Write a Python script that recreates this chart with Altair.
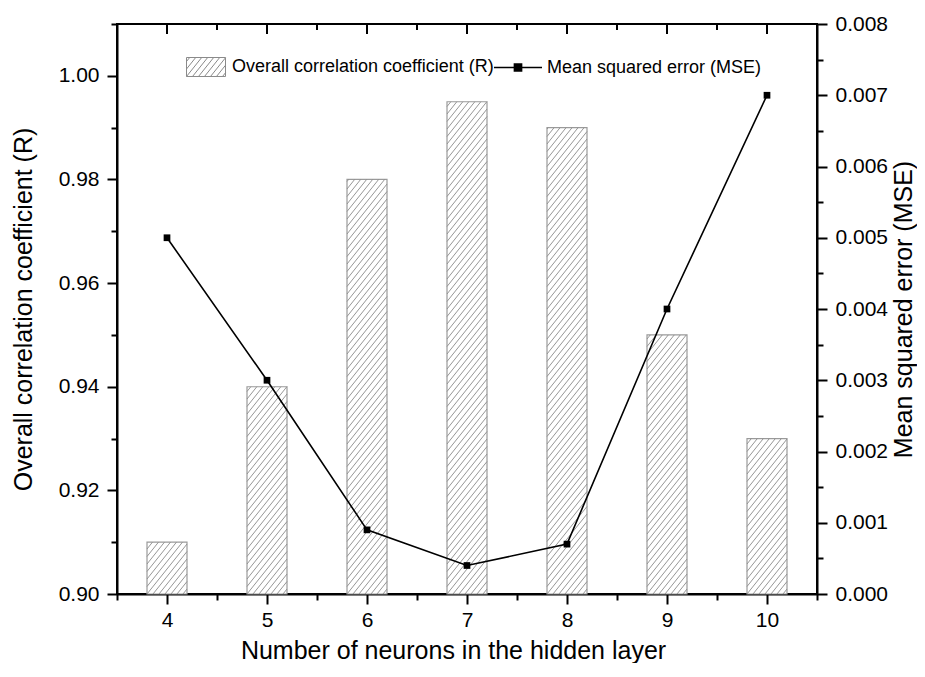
import altair as alt
import numpy as np
import pandas as pd

# ---------------- data ----------------
neurons = [4, 5, 6, 7, 8, 9, 10]
r_values = [0.910, 0.940, 0.980, 0.995, 0.990, 0.950, 0.930]
mse_values = [0.0050, 0.0030, 0.0009, 0.0004, 0.0007, 0.0040, 0.0070]

R_LABEL = "Overall correlation coefficient (R)"
MSE_LABEL = "Mean squared error (MSE)"
X_TITLE = "Number of neurons in the hidden layer"

x_domain = [3.5, 10.5]
r_domain = [0.90, 1.01]
mse_domain = [0.0, 0.008]

x_major = [4, 5, 6, 7, 8, 9, 10]
x_minor = [3.5, 4.5, 5.5, 6.5, 7.5, 8.5, 9.5, 10.5]
r_major = [0.90, 0.92, 0.94, 0.96, 0.98, 1.00]
r_minor = [0.91, 0.93, 0.95, 0.97, 0.99, 1.01]
mse_major = [0.000, 0.001, 0.002, 0.003, 0.004, 0.005, 0.006, 0.007, 0.008]
mse_minor = [0.0005, 0.0015, 0.0025, 0.0035, 0.0045, 0.0055, 0.0065, 0.0075]

# ---------------- layout / style ----------------
W, H = 700, 570
BAR_W = 0.4
FONT = "Liberation Sans"
HATCH_SPACING = 6.0
HATCH_SLOPE = 1.25
HATCH_COLOR = "#8a8a8a"
BAR_EDGE = "#9a9a9a"

px_x = W / (x_domain[1] - x_domain[0])
px_y = H / (r_domain[1] - r_domain[0])


def hatch_segments(w, h, spacing, slope):
    run = h / slope
    segs = []
    n0 = int(np.floor(-run / spacing))
    n1 = int(np.ceil(w / spacing))
    for n in range(n0, n1 + 1):
        c = n * spacing
        xs = max(0.0, c)
        xe = min(w, c + run)
        if xe - xs <= 0.3:
            continue
        segs.append((xs, slope * (xs - c), xe, slope * (xe - c)))
    return segs


df = pd.DataFrame({"n": neurons, "r": r_values, "mse": mse_values})
df["r_series"] = R_LABEL
df["mse_series"] = MSE_LABEL
df["x_lo"] = df["n"] - BAR_W / 2
df["x_hi"] = df["n"] + BAR_W / 2
df["base"] = r_domain[0]

hatch_rows = []
for n, r in zip(neurons, r_values):
    w = BAR_W * px_x
    h = (r - r_domain[0]) * px_y
    for xs, ys, xe, ye in hatch_segments(w, h, HATCH_SPACING, HATCH_SLOPE):
        hatch_rows.append({
            "hx": n - BAR_W / 2 + xs / px_x,
            "hy": r_domain[0] + ys / px_y,
            "hx2": n - BAR_W / 2 + xe / px_x,
            "hy2": r_domain[0] + ye / px_y,
        })
hatch_df = pd.DataFrame(hatch_rows)

# legend symbol: hatched box
LW, LH = 39, 19
half = LW / 2
hh = LH / 2 / half
parts = [f"M-1,{-hh:.3f}L1,{-hh:.3f}L1,{hh:.3f}L-1,{hh:.3f}Z"]
for xs, ys, xe, ye in hatch_segments(LW, LH, HATCH_SPACING, HATCH_SLOPE):
    parts.append(f"M{-1 + xs / half:.3f},{hh - ys / half:.3f}L{-1 + xe / half:.3f},{hh - ye / half:.3f}")
hatch_symbol = "".join(parts)
line_symbol = "M-1,0L1,0M-0.15,-0.15L0.15,-0.15L0.15,0.15L-0.15,0.15Z"

xscale = alt.Scale(domain=x_domain, nice=False, zero=False)
rscale = alt.Scale(domain=r_domain, nice=False, zero=False)
mscale = alt.Scale(domain=mse_domain, nice=False, zero=False)

x_axis = alt.Axis(
    values=sorted(x_major + x_minor),
    labelExpr="datum.value % 1 == 0 ? format(datum.value, 'd') : ''",
    tickSize={"condition": {"test": "datum.value % 1 == 0", "value": 10}, "value": 6},
    title=X_TITLE,
    titleX=336,
    labelPadding=5,
    titlePadding=8,
    labelOverlap=False,
    labelFlush=False,
)
r_axis = alt.Axis(
    values=sorted(r_major + r_minor),
    labelExpr="round(datum.value * 100) % 2 == 0 ? format(datum.value, '.2f') : ''",
    tickSize={"condition": {"test": "round(datum.value * 100) % 2 == 0", "value": 10}, "value": 6},
    title=R_LABEL,
    labelPadding=8,
    titlePadding=22,
    labelOverlap=False,
)
m_axis = alt.Axis(
    orient="right",
    values=sorted(mse_major + mse_minor),
    labelExpr="round(datum.value * 2000) % 2 == 0 ? format(datum.value, '.3f') : ''",
    tickSize={"condition": {"test": "round(datum.value * 2000) % 2 == 0", "value": 10}, "value": 6},
    title=MSE_LABEL,
    titleAngle=270,
    titleBaseline="top",
    labelPadding=8,
    titlePadding=4,
    labelOverlap=False,
)

base = alt.Chart(df)

bars = base.mark_bar(stroke=BAR_EDGE, strokeWidth=1.2).encode(
    x=alt.X("x_lo:Q", scale=xscale, axis=x_axis),
    x2="x_hi:Q",
    y=alt.Y("r:Q", scale=rscale, axis=r_axis),
    y2="base:Q",
    fill=alt.Fill(
        "r_series:N",
        scale=alt.Scale(domain=[R_LABEL], range=["white"]),
        legend=alt.Legend(
            title=None, orient="none", legendX=69, legendY=23,
            symbolType=hatch_symbol, symbolSize=LW * LW,
            symbolStrokeColor=HATCH_COLOR, symbolStrokeWidth=1,
            labelFont=FONT, labelFontSize=18, labelColor="black",
            labelLimit=500, labelOffset=6, padding=0,
        ),
    ),
)

hatch = alt.Chart(hatch_df).mark_rule(color=HATCH_COLOR, strokeWidth=0.9).encode(
    x=alt.X("hx:Q", scale=xscale, axis=x_axis),
    x2="hx2:Q",
    y=alt.Y("hy:Q", scale=rscale, axis=r_axis),
    y2="hy2:Q",
)

top_major = alt.Chart(pd.DataFrame({"t": x_major})).mark_rule(color="black", strokeWidth=2).encode(
    x=alt.X("t:Q", scale=xscale, axis=x_axis), y=alt.value(0), y2=alt.value(10)
)
top_minor = alt.Chart(pd.DataFrame({"t": x_minor})).mark_rule(color="black", strokeWidth=2).encode(
    x=alt.X("t:Q", scale=xscale, axis=x_axis), y=alt.value(0), y2=alt.value(6)
)

line = base.mark_line(strokeWidth=1.6).encode(
    x=alt.X("n:Q", scale=xscale, axis=x_axis),
    y=alt.Y("mse:Q", scale=mscale, axis=m_axis),
    stroke=alt.Stroke(
        "mse_series:N",
        scale=alt.Scale(domain=[MSE_LABEL], range=["black"]),
        legend=alt.Legend(
            title=None, orient="none", legendX=376, legendY=18.5,
            symbolType=line_symbol, symbolSize=48 * 48,
            symbolStrokeWidth=1.5, symbolFillColor="black", symbolStrokeColor="black",
            labelFont=FONT, labelFontSize=18, labelColor="black",
            labelLimit=500, labelOffset=4, padding=0,
        ),
    ),
)
points = base.mark_square(size=45, color="black", opacity=1).encode(
    x=alt.X("n:Q", scale=xscale, axis=x_axis),
    y=alt.Y("mse:Q", scale=mscale, axis=m_axis),
)

left = alt.layer(bars, hatch, top_major, top_minor)
right = alt.layer(line, points)

chart = (
    alt.layer(left, right)
    .resolve_scale(y="independent", fill="independent", stroke="independent")
    .properties(width=W, height=H, padding={"left": 3, "top": 5, "right": 0, "bottom": 0})
    .configure_view(stroke="black", strokeWidth=2)
    .configure_axis(
        domainColor="black", domainWidth=2, tickColor="black", tickWidth=2,
        labelFont=FONT, labelFontSize=21, labelColor="black",
        titleFont=FONT, titleFontSize=25, titleFontWeight="normal", titleColor="black",
        grid=False,
    )
)

chart.save("out.html", embed_options={"renderer": "svg", "actions": False})
